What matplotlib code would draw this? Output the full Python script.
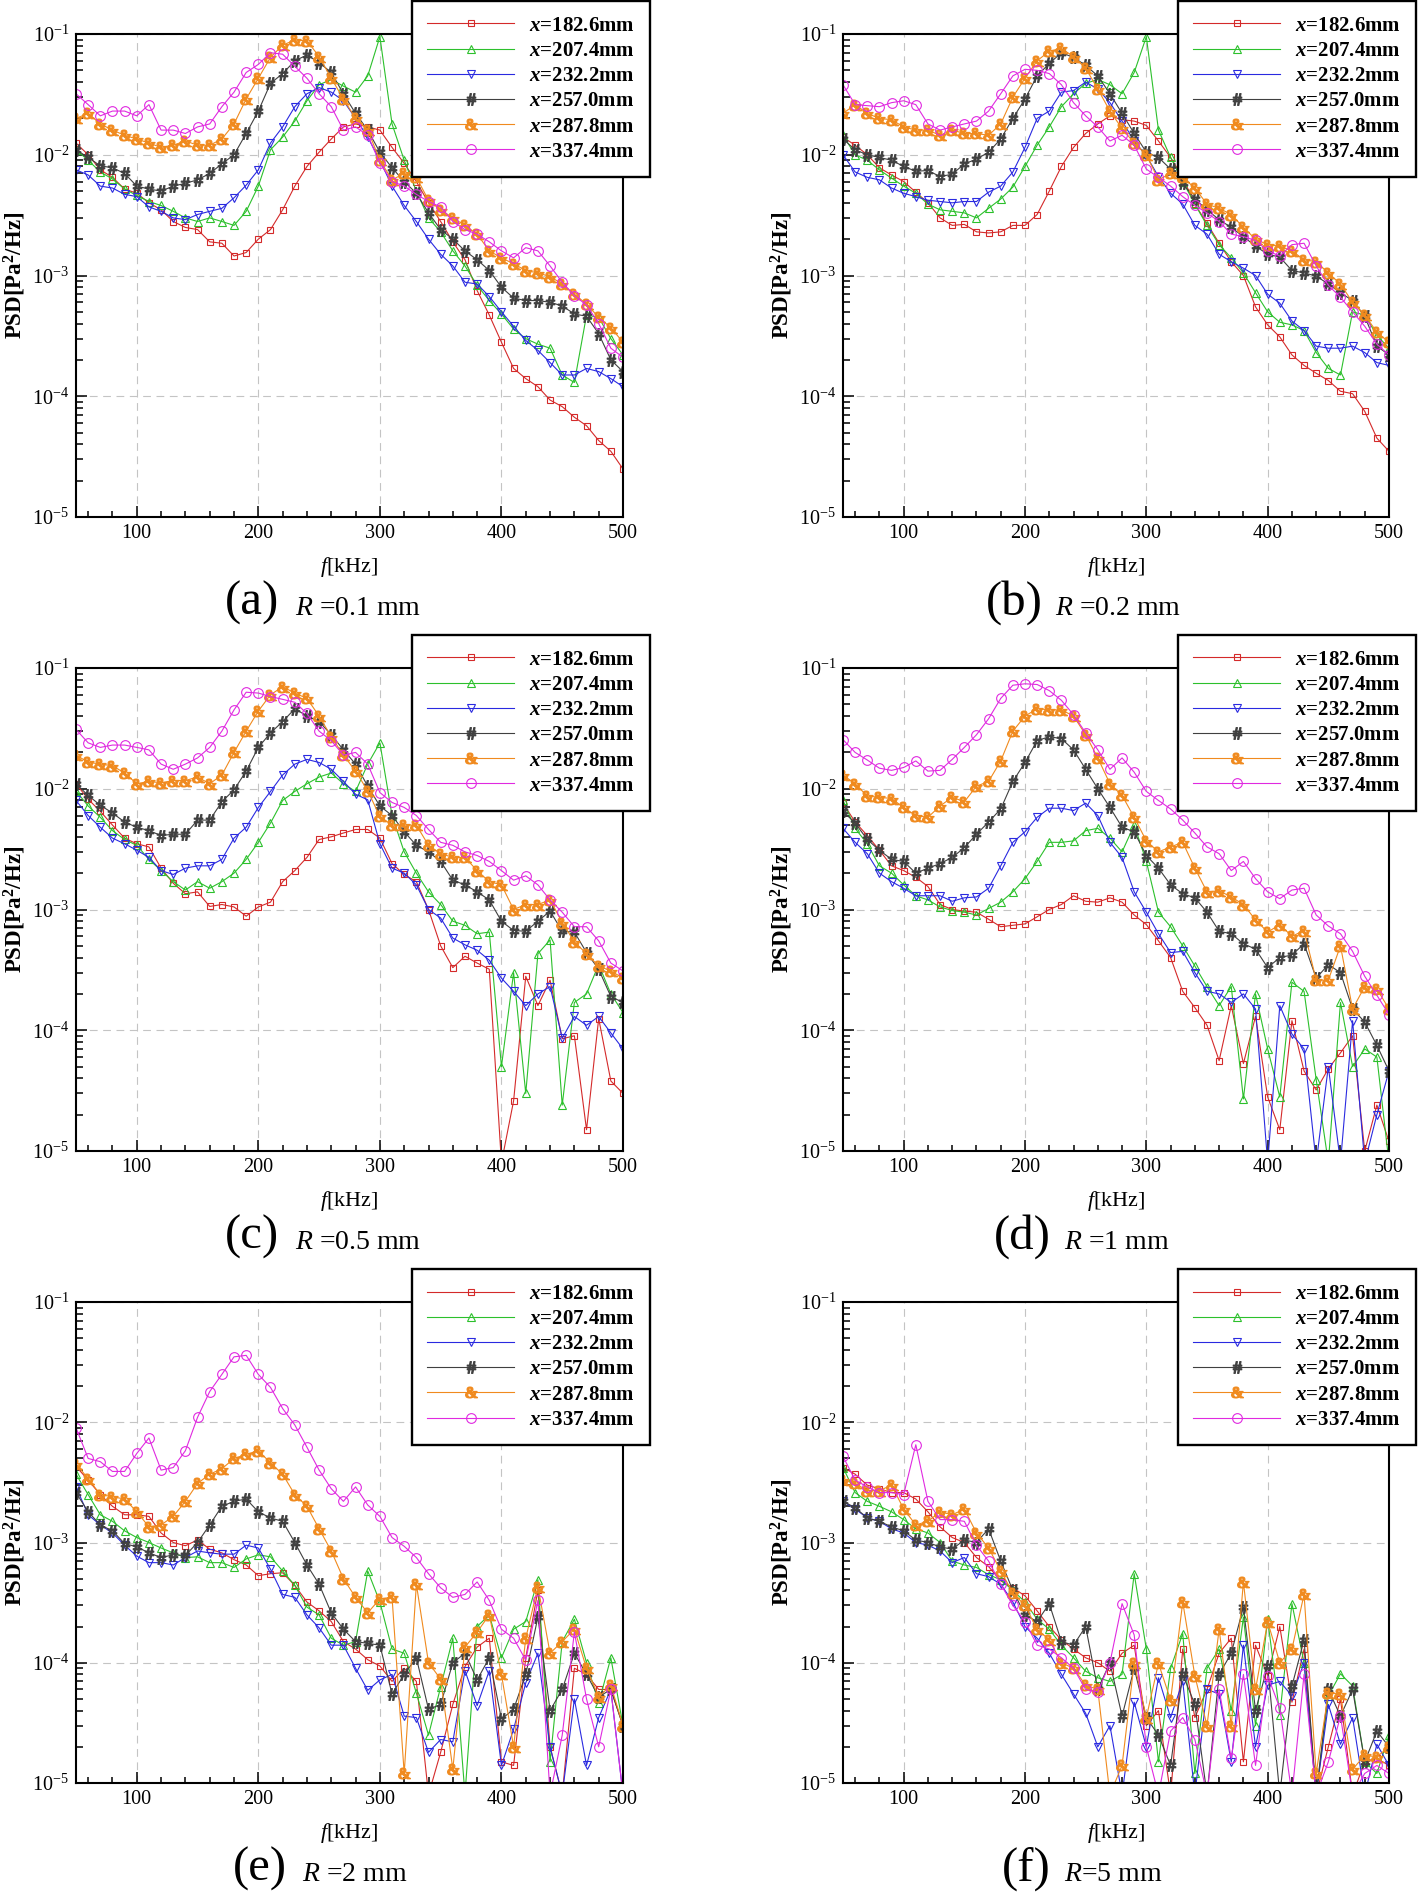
import matplotlib
matplotlib.use('Agg')
import matplotlib.pyplot as plt
from matplotlib.ticker import FixedLocator, LogLocator, NullFormatter, LogFormatterMathtext

# Frequency grid [kHz] shared by every curve
FREQ = [50, 60, 70, 80, 90, 100, 110, 120, 130, 140,
        150, 160, 170, 180, 190, 200, 210, 220, 230, 240,
        250, 260, 270, 280, 290, 300, 310, 320, 330, 340,
        350, 360, 370, 380, 390, 400, 410, 420, 430, 440,
        450, 460, 470, 480, 490, 500]

# (a) R = 0.1 mm
A_182 = [1.25e-2, 1.0e-2, 7.5e-3, 6.5e-3, 5.2e-3, 4.8e-3, 4.0e-3, 3.5e-3, 2.8e-3, 2.5e-3,
         2.4e-3, 1.9e-3, 1.85e-3, 1.45e-3, 1.55e-3, 2.0e-3, 2.4e-3, 3.5e-3, 5.5e-3, 8.0e-3,
         1.05e-2, 1.35e-2, 1.7e-2, 1.8e-2, 1.7e-2, 1.6e-2, 1.15e-2, 8.5e-3, 6.0e-3, 4.0e-3,
         2.8e-3, 1.9e-3, 1.35e-3, 7.5e-4, 4.7e-4, 2.8e-4, 1.7e-4, 1.4e-4, 1.2e-4, 9.3e-5,
         8.2e-5, 6.7e-5, 5.7e-5, 4.3e-5, 3.5e-5, 2.5e-5]
A_207 = [1.1e-2, 9.0e-3, 7.2e-3, 6.3e-3, 5.2e-3, 4.6e-3, 4.1e-3, 3.8e-3, 3.4e-3, 3.0e-3,
         2.8e-3, 3.0e-3, 2.8e-3, 2.6e-3, 3.4e-3, 5.5e-3, 1.1e-2, 1.4e-2, 1.9e-2, 2.8e-2,
         3.8e-2, 4.2e-2, 3.7e-2, 3.3e-2, 4.5e-2, 9.5e-2, 1.8e-2, 9.0e-3, 5.0e-3, 3.0e-3,
         2.3e-3, 1.6e-3, 1.2e-3, 8.3e-4, 6.2e-4, 4.8e-4, 3.6e-4, 3.0e-4, 2.7e-4, 2.5e-4,
         1.5e-4, 1.3e-4, 4.7e-4, 4.5e-4, 3.0e-4, 2.2e-4]
A_232 = [7.5e-3, 6.8e-3, 5.5e-3, 5.3e-3, 4.7e-3, 4.5e-3, 3.7e-3, 3.4e-3, 3.0e-3, 2.9e-3,
         3.2e-3, 3.4e-3, 3.6e-3, 4.4e-3, 5.6e-3, 7.5e-3, 1.25e-2, 1.7e-2, 2.5e-2, 3.2e-2,
         3.6e-2, 3.3e-2, 2.8e-2, 2.0e-2, 1.4e-2, 9.0e-3, 5.5e-3, 3.8e-3, 2.8e-3, 2.0e-3,
         1.5e-3, 1.2e-3, 8.8e-4, 8.5e-4, 6.7e-4, 5.0e-4, 3.8e-4, 2.9e-4, 2.4e-4, 1.9e-4,
         1.5e-4, 1.5e-4, 1.7e-4, 1.6e-4, 1.4e-4, 1.2e-4]
A_257 = [1.1e-2, 9.5e-3, 8.1e-3, 7.8e-3, 7.0e-3, 5.5e-3, 5.2e-3, 5.0e-3, 5.5e-3, 5.8e-3,
         6.2e-3, 7.0e-3, 8.4e-3, 1.0e-2, 1.5e-2, 2.3e-2, 3.9e-2, 4.7e-2, 6.0e-2, 6.7e-2,
         5.8e-2, 4.8e-2, 3.2e-2, 2.2e-2, 1.6e-2, 1.05e-2, 7.8e-3, 6.0e-3, 4.8e-3, 3.3e-3,
         2.4e-3, 2.0e-3, 1.6e-3, 1.35e-3, 1.1e-3, 8.0e-4, 6.5e-4, 6.2e-4, 6.2e-4, 6.0e-4,
         5.6e-4, 4.8e-4, 4.6e-4, 3.3e-4, 2.0e-4, 1.6e-4]
A_287 = [2.0e-2, 2.2e-2, 1.8e-2, 1.6e-2, 1.45e-2, 1.35e-2, 1.25e-2, 1.15e-2, 1.2e-2, 1.3e-2,
         1.2e-2, 1.2e-2, 1.35e-2, 1.8e-2, 2.9e-2, 4.3e-2, 6.4e-2, 8.1e-2, 8.9e-2, 8.8e-2,
         6.5e-2, 4.3e-2, 2.9e-2, 2.0e-2, 1.6e-2, 9.0e-3, 6.2e-3, 7.0e-3, 6.5e-3, 4.2e-3,
         3.5e-3, 3.0e-3, 2.6e-3, 2.2e-3, 1.6e-3, 1.4e-3, 1.25e-3, 1.1e-3, 1.05e-3, 9.8e-4,
         8.5e-4, 7.0e-4, 5.8e-4, 4.5e-4, 3.7e-4, 2.8e-4]
A_337 = [3.2e-2, 2.6e-2, 2.1e-2, 2.3e-2, 2.3e-2, 2.1e-2, 2.6e-2, 1.6e-2, 1.6e-2, 1.5e-2,
         1.7e-2, 1.8e-2, 2.5e-2, 3.3e-2, 4.8e-2, 5.6e-2, 7.0e-2, 6.8e-2, 5.4e-2, 4.3e-2,
         3.2e-2, 2.5e-2, 1.6e-2, 1.7e-2, 1.45e-2, 8.5e-3, 6.0e-3, 5.5e-3, 4.7e-3, 4.1e-3,
         3.7e-3, 2.8e-3, 2.4e-3, 2.2e-3, 1.9e-3, 1.6e-3, 1.4e-3, 1.7e-3, 1.6e-3, 1.2e-3,
         8.8e-4, 6.8e-4, 5.7e-4, 4.0e-4, 2.5e-4, 2.1e-4]

# (b) R = 0.2 mm
B_182 = [1.4e-2, 1.2e-2, 1.0e-2, 7.8e-3, 6.8e-3, 6.0e-3, 4.9e-3, 4.0e-3, 3.0e-3, 2.6e-3,
         2.65e-3, 2.3e-3, 2.25e-3, 2.3e-3, 2.6e-3, 2.6e-3, 3.2e-3, 5.0e-3, 8.0e-3, 1.15e-2,
         1.5e-2, 1.8e-2, 2.1e-2, 1.95e-2, 1.9e-2, 1.75e-2, 1.3e-2, 9.5e-3, 6.5e-3, 3.9e-3,
         2.7e-3, 1.85e-3, 1.3e-3, 1.0e-3, 5.5e-4, 3.9e-4, 3.1e-4, 2.2e-4, 1.8e-4, 1.55e-4,
         1.35e-4, 1.1e-4, 1.05e-4, 7.5e-5, 4.5e-5, 3.5e-5]
B_207 = [1.45e-2, 1.0e-2, 9.0e-3, 7.5e-3, 6.4e-3, 5.5e-3, 4.8e-3, 3.9e-3, 3.5e-3, 3.4e-3,
         3.3e-3, 3.0e-3, 3.6e-3, 4.3e-3, 5.4e-3, 8.0e-3, 1.2e-2, 1.7e-2, 2.5e-2, 3.2e-2,
         3.9e-2, 4.2e-2, 3.8e-2, 3.2e-2, 4.8e-2, 9.5e-2, 1.6e-2, 9.5e-3, 6.0e-3, 3.9e-3,
         2.6e-3, 1.8e-3, 1.4e-3, 1.05e-3, 7.2e-4, 5.0e-4, 4.1e-4, 3.9e-4, 3.5e-4, 2.3e-4,
         1.7e-4, 1.5e-4, 5.0e-4, 4.7e-4, 3.2e-4, 2.5e-4]
B_232 = [1.0e-2, 7.2e-3, 6.5e-3, 6.2e-3, 5.3e-3, 4.8e-3, 4.5e-3, 4.2e-3, 4.1e-3, 4.0e-3,
         4.1e-3, 4.1e-3, 4.9e-3, 5.5e-3, 7.2e-3, 1.15e-2, 2.0e-2, 2.3e-2, 3.3e-2, 3.4e-2,
         4.0e-2, 3.5e-2, 2.7e-2, 1.9e-2, 1.3e-2, 9.8e-3, 6.6e-3, 4.8e-3, 3.9e-3, 2.6e-3,
         2.2e-3, 1.5e-3, 1.3e-3, 1.15e-3, 1.0e-3, 7.0e-4, 5.9e-4, 4.2e-4, 3.5e-4, 2.6e-4,
         2.5e-4, 2.5e-4, 2.6e-4, 2.3e-4, 1.9e-4, 1.8e-4]
B_257 = [1.35e-2, 1.1e-2, 1.0e-2, 9.5e-3, 9.0e-3, 8.0e-3, 7.3e-3, 7.4e-3, 6.6e-3, 6.9e-3,
         8.4e-3, 9.2e-3, 1.05e-2, 1.35e-2, 2.0e-2, 2.9e-2, 4.5e-2, 5.7e-2, 7.0e-2, 6.4e-2,
         5.5e-2, 4.5e-2, 3.2e-2, 2.2e-2, 1.5e-2, 1.05e-2, 9.5e-3, 7.6e-3, 5.8e-3, 4.3e-3,
         3.5e-3, 2.9e-3, 2.5e-3, 2.1e-3, 1.75e-3, 1.5e-3, 1.42e-3, 1.1e-3, 1.05e-3, 9.9e-4,
         8.5e-4, 7.2e-4, 6.2e-4, 4.6e-4, 2.6e-4, 2.2e-4]
B_287 = [2.2e-2, 2.6e-2, 2.2e-2, 2.0e-2, 1.95e-2, 1.7e-2, 1.6e-2, 1.6e-2, 1.45e-2, 1.6e-2,
         1.5e-2, 1.5e-2, 1.45e-2, 1.8e-2, 3.0e-2, 4.3e-2, 6.0e-2, 7.2e-2, 7.6e-2, 6.5e-2,
         5.2e-2, 3.5e-2, 2.3e-2, 1.65e-2, 1.25e-2, 1.0e-2, 6.2e-3, 7.0e-3, 6.5e-3, 5.3e-3,
         3.9e-3, 3.6e-3, 3.2e-3, 2.5e-3, 2.0e-3, 1.8e-3, 1.75e-3, 1.6e-3, 1.35e-3, 1.3e-3,
         1.05e-3, 8.5e-4, 6.0e-4, 4.7e-4, 3.4e-4, 2.8e-4]
B_337 = [3.8e-2, 2.6e-2, 2.55e-2, 2.5e-2, 2.7e-2, 2.8e-2, 2.6e-2, 1.8e-2, 1.6e-2, 1.7e-2,
         1.8e-2, 1.9e-2, 2.3e-2, 3.2e-2, 4.5e-2, 5.1e-2, 5.0e-2, 4.7e-2, 3.8e-2, 2.7e-2,
         2.1e-2, 1.7e-2, 1.3e-2, 1.45e-2, 1.2e-2, 7.6e-3, 6.5e-3, 5.5e-3, 4.5e-3, 3.8e-3,
         3.3e-3, 2.8e-3, 2.2e-3, 2.1e-3, 1.95e-3, 1.6e-3, 1.45e-3, 1.8e-3, 1.85e-3, 1.2e-3,
         8.3e-4, 6.6e-4, 5.0e-4, 3.8e-4, 2.7e-4, 2.2e-4]

# (c) R = 0.5 mm
C_182 = [1.1e-2, 8.2e-3, 6.5e-3, 5.0e-3, 3.9e-3, 3.5e-3, 3.3e-3, 2.2e-3, 1.65e-3, 1.35e-3,
         1.4e-3, 1.06e-3, 1.1e-3, 1.05e-3, 8.8e-4, 1.05e-3, 1.15e-3, 1.7e-3, 2.1e-3, 2.7e-3,
         3.8e-3, 4.0e-3, 4.3e-3, 4.6e-3, 4.6e-3, 3.9e-3, 2.4e-3, 1.95e-3, 1.7e-3, 1.0e-3,
         5.0e-4, 3.3e-4, 4.1e-4, 3.6e-4, 3.2e-4, 8.0e-6, 2.6e-5, 2.8e-4, 1.6e-4, 2.6e-4,
         8.5e-5, 9.0e-5, 1.5e-5, 1.25e-4, 3.8e-5, 3.0e-5]
C_207 = [9.6e-3, 7.2e-3, 5.8e-3, 4.5e-3, 3.8e-3, 3.4e-3, 2.6e-3, 2.1e-3, 1.7e-3, 1.45e-3,
         1.7e-3, 1.5e-3, 1.7e-3, 2.0e-3, 2.6e-3, 3.6e-3, 5.2e-3, 8.0e-3, 9.5e-3, 1.1e-2,
         1.25e-2, 1.35e-2, 1.1e-2, 9.5e-3, 1.6e-2, 2.4e-2, 6.0e-3, 3.0e-3, 2.0e-3, 1.4e-3,
         1.1e-3, 8.0e-4, 7.4e-4, 6.3e-4, 6.5e-4, 5.0e-5, 3.0e-4, 3.0e-5, 4.3e-4, 5.6e-4,
         2.4e-5, 1.7e-4, 2.0e-4, 3.5e-4, 2.0e-4, 1.4e-4]
C_232 = [8.0e-3, 6.0e-3, 4.8e-3, 3.9e-3, 3.5e-3, 3.1e-3, 2.7e-3, 2.1e-3, 1.95e-3, 2.2e-3,
         2.3e-3, 2.3e-3, 2.6e-3, 3.9e-3, 4.8e-3, 7.0e-3, 9.5e-3, 1.3e-2, 1.6e-2, 1.75e-2,
         1.65e-2, 1.45e-2, 1.15e-2, 9.0e-3, 8.1e-3, 3.5e-3, 2.2e-3, 2.0e-3, 1.6e-3, 1.0e-3,
         8.5e-4, 5.8e-4, 5.1e-4, 4.6e-4, 3.8e-4, 2.7e-4, 2.1e-4, 1.6e-4, 2.0e-4, 2.3e-4,
         8.6e-5, 1.3e-4, 1.1e-4, 1.3e-4, 9.5e-5, 7.0e-5]
C_257 = [1.1e-2, 8.8e-3, 7.3e-3, 6.3e-3, 5.3e-3, 4.8e-3, 4.5e-3, 4.1e-3, 4.2e-3, 4.2e-3,
         5.5e-3, 5.5e-3, 7.8e-3, 9.8e-3, 1.4e-2, 2.2e-2, 2.9e-2, 3.6e-2, 4.6e-2, 4.0e-2,
         3.6e-2, 2.8e-2, 2.1e-2, 1.6e-2, 1.05e-2, 7.2e-3, 6.0e-3, 4.4e-3, 3.4e-3, 3.0e-3,
         2.5e-3, 1.75e-3, 1.6e-3, 1.4e-3, 1.2e-3, 8.0e-4, 6.7e-4, 6.6e-4, 8.0e-4, 9.7e-4,
         6.6e-4, 6.5e-4, 4.4e-4, 3.2e-4, 1.9e-4, 1.7e-4]
C_287 = [1.9e-2, 1.66e-2, 1.6e-2, 1.55e-2, 1.35e-2, 1.1e-2, 1.15e-2, 1.12e-2, 1.17e-2, 1.17e-2,
         1.25e-2, 1.1e-2, 1.3e-2, 2.0e-2, 3.0e-2, 4.4e-2, 6.0e-2, 7.0e-2, 6.2e-2, 5.6e-2,
         4.0e-2, 2.7e-2, 1.9e-2, 1.4e-2, 9.6e-3, 5.9e-3, 5.0e-3, 5.0e-3, 5.0e-3, 3.4e-3,
         2.9e-3, 2.7e-3, 2.7e-3, 2.1e-3, 1.7e-3, 1.6e-3, 1.0e-3, 1.1e-3, 1.1e-3, 1.2e-3,
         7.8e-4, 5.4e-4, 4.3e-4, 3.4e-4, 3.1e-4, 2.7e-4]
C_337 = [3.1e-2, 2.4e-2, 2.2e-2, 2.3e-2, 2.3e-2, 2.2e-2, 2.1e-2, 1.6e-2, 1.45e-2, 1.6e-2,
         1.8e-2, 2.2e-2, 3.0e-2, 4.5e-2, 6.3e-2, 6.2e-2, 5.8e-2, 5.5e-2, 5.2e-2, 4.2e-2,
         3.0e-2, 2.5e-2, 1.9e-2, 2.0e-2, 1.6e-2, 9.3e-3, 7.7e-3, 7.0e-3, 6.0e-3, 4.6e-3,
         3.6e-3, 3.4e-3, 3.0e-3, 2.8e-3, 2.5e-3, 2.1e-3, 1.75e-3, 1.9e-3, 1.6e-3, 1.2e-3,
         9.5e-4, 7.2e-4, 7.2e-4, 5.5e-4, 3.6e-4, 3.1e-4]

# (d) R = 1 mm
D_182 = [7.6e-3, 5.3e-3, 4.1e-3, 3.1e-3, 2.3e-3, 2.1e-3, 1.85e-3, 1.55e-3, 1.1e-3, 1.0e-3,
         9.7e-4, 9.5e-4, 8.3e-4, 7.2e-4, 7.4e-4, 7.6e-4, 8.7e-4, 1.0e-3, 1.1e-3, 1.3e-3,
         1.17e-3, 1.15e-3, 1.25e-3, 1.15e-3, 9.0e-4, 7.5e-4, 5.5e-4, 4.0e-4, 2.1e-4, 1.54e-4,
         1.1e-4, 5.6e-5, 1.6e-4, 5.3e-5, 1.3e-4, 2.8e-5, 1.5e-5, 1.2e-4, 4.6e-5, 3.2e-5,
         4.8e-5, 6.5e-5, 9.0e-5, 1.0e-5, 2.4e-5, 1.2e-5]
D_207 = [8.0e-3, 4.7e-3, 3.5e-3, 2.3e-3, 2.0e-3, 1.6e-3, 1.3e-3, 1.2e-3, 1.05e-3, 9.8e-4,
         9.5e-4, 9.0e-4, 1.02e-3, 1.15e-3, 1.4e-3, 1.8e-3, 2.5e-3, 3.6e-3, 3.6e-3, 3.7e-3,
         4.5e-3, 4.7e-3, 3.9e-3, 3.0e-3, 5.0e-3, 2.5e-3, 9.5e-4, 7.2e-4, 5.0e-4, 3.4e-4,
         2.3e-4, 1.6e-4, 2.3e-4, 2.7e-5, 2.0e-4, 7.0e-5, 2.8e-5, 2.5e-4, 2.1e-4, 3.9e-5,
         8.0e-6, 1.7e-4, 5.0e-5, 7.0e-5, 6.0e-5, 8.0e-6]
D_232 = [4.7e-3, 3.6e-3, 2.9e-3, 2.0e-3, 1.7e-3, 1.5e-3, 1.3e-3, 1.3e-3, 1.3e-3, 1.17e-3,
         1.25e-3, 1.27e-3, 1.5e-3, 2.3e-3, 3.6e-3, 4.4e-3, 5.8e-3, 6.9e-3, 6.9e-3, 6.6e-3,
         7.6e-3, 6.0e-3, 3.6e-3, 2.7e-3, 1.4e-3, 9.5e-4, 6.3e-4, 4.4e-4, 4.5e-4, 3.0e-4,
         2.1e-4, 2.0e-4, 1.7e-4, 2.0e-4, 1.5e-4, 8.0e-6, 1.6e-4, 9.3e-5, 7.0e-5, 8.0e-6,
         5.0e-5, 8.0e-6, 1.2e-4, 8.0e-6, 2.0e-5, 4.6e-5]
D_257 = [6.5e-3, 5.2e-3, 3.8e-3, 3.1e-3, 2.6e-3, 2.5e-3, 2.0e-3, 2.2e-3, 2.4e-3, 2.7e-3,
         3.25e-3, 4.2e-3, 5.3e-3, 6.8e-3, 1.15e-2, 1.65e-2, 2.5e-2, 2.7e-2, 2.6e-2, 2.1e-2,
         1.45e-2, 1.0e-2, 7.0e-3, 4.8e-3, 4.4e-3, 2.8e-3, 2.2e-3, 1.6e-3, 1.35e-3, 1.25e-3,
         9.5e-4, 6.6e-4, 6.3e-4, 5.2e-4, 4.7e-4, 3.3e-4, 4.0e-4, 4.2e-4, 5.2e-4, 2.7e-4,
         3.5e-4, 3.0e-4, 1.5e-4, 1.17e-4, 7.5e-5, 4.6e-5]
D_287 = [1.3e-2, 1.1e-2, 8.7e-3, 8.5e-3, 8.3e-3, 7.0e-3, 6.0e-3, 5.8e-3, 7.2e-3, 8.5e-3,
         7.8e-3, 1.05e-2, 1.15e-2, 1.7e-2, 3.0e-2, 4.0e-2, 4.6e-2, 4.5e-2, 4.5e-2, 4.0e-2,
         2.8e-2, 1.8e-2, 1.1e-2, 8.8e-3, 5.8e-3, 3.7e-3, 3.0e-3, 3.3e-3, 3.6e-3, 2.2e-3,
         1.4e-3, 1.43e-3, 1.27e-3, 1.1e-3, 8.2e-4, 6.5e-4, 7.5e-4, 6.0e-4, 6.7e-4, 2.6e-4,
         2.6e-4, 5.0e-4, 1.5e-4, 2.3e-4, 2.2e-4, 1.5e-4]
D_337 = [2.55e-2, 2.0e-2, 1.73e-2, 1.48e-2, 1.42e-2, 1.5e-2, 1.7e-2, 1.4e-2, 1.42e-2, 1.75e-2,
         2.2e-2, 2.8e-2, 3.8e-2, 5.6e-2, 7.2e-2, 7.4e-2, 7.3e-2, 6.5e-2, 5.4e-2, 4.1e-2,
         2.9e-2, 2.1e-2, 1.45e-2, 1.8e-2, 1.37e-2, 9.5e-3, 8.0e-3, 6.8e-3, 5.5e-3, 4.3e-3,
         3.3e-3, 2.9e-3, 2.1e-3, 2.5e-3, 1.8e-3, 1.4e-3, 1.23e-3, 1.45e-3, 1.5e-3, 9.0e-4,
         7.3e-4, 6.3e-4, 4.5e-4, 2.8e-4, 1.95e-4, 1.35e-4]

# (e) R = 2 mm
E_182 = [4.3e-3, 3.3e-3, 2.5e-3, 2.0e-3, 1.7e-3, 1.7e-3, 1.65e-3, 1.2e-3, 1.0e-3, 9.4e-4,
         1.05e-3, 8.8e-4, 8.2e-4, 7.2e-4, 6.5e-4, 5.3e-4, 5.5e-4, 5.6e-4, 4.4e-4, 3.2e-4,
         2.7e-4, 2.2e-4, 1.5e-4, 1.3e-4, 1.06e-4, 9.4e-5, 7.0e-5, 9.0e-5, 7.0e-5, 8.0e-6,
         1.8e-5, 4.5e-5, 9.3e-5, 1.35e-4, 1.6e-4, 1.5e-5, 1.4e-5, 1.1e-4, 4.0e-4, 2.0e-5,
         8.0e-6, 9.0e-5, 8.0e-5, 6.0e-5, 6.0e-5, 3.0e-5]
E_207 = [3.7e-3, 2.5e-3, 1.7e-3, 1.5e-3, 1.25e-3, 1.1e-3, 1.0e-3, 9.0e-4, 8.2e-4, 7.5e-4,
         7.6e-4, 6.8e-4, 6.8e-4, 6.2e-4, 7.3e-4, 7.9e-4, 7.6e-4, 5.8e-4, 4.4e-4, 2.9e-4,
         2.5e-4, 1.6e-4, 1.4e-4, 1.5e-4, 5.8e-4, 3.2e-4, 1.3e-4, 1.2e-4, 5.6e-5, 2.5e-5,
         6.3e-5, 1.6e-4, 8.0e-6, 2.0e-4, 2.5e-4, 1.1e-4, 1.9e-4, 2.2e-4, 4.9e-4, 1.5e-5,
         1.5e-4, 2.3e-4, 1.0e-4, 4.6e-5, 1.1e-4, 3.0e-5]
E_232 = [2.9e-3, 1.7e-3, 1.4e-3, 1.2e-3, 9.5e-4, 7.7e-4, 6.8e-4, 6.8e-4, 6.5e-4, 7.5e-4,
         8.5e-4, 8.2e-4, 8.0e-4, 8.0e-4, 9.5e-4, 9.0e-4, 6.0e-4, 3.7e-4, 3.5e-4, 2.5e-4,
         1.95e-4, 1.4e-4, 1.4e-4, 9.0e-5, 5.9e-5, 7.2e-5, 8.0e-5, 3.6e-5, 3.5e-5, 1.8e-5,
         2.3e-5, 2.2e-5, 8.6e-5, 4.4e-5, 8.6e-5, 1.4e-5, 2.8e-5, 6.8e-5, 1.2e-4, 2.0e-5,
         8.0e-6, 5.0e-5, 1.4e-5, 3.5e-5, 6.0e-5, 8.0e-6]
E_257 = [2.6e-3, 1.8e-3, 1.4e-3, 1.25e-3, 9.8e-4, 9.2e-4, 8.2e-4, 7.5e-4, 7.9e-4, 7.8e-4,
         1.0e-3, 1.4e-3, 2.0e-3, 2.2e-3, 2.3e-3, 1.8e-3, 1.6e-3, 1.5e-3, 1.0e-3, 6.5e-4,
         4.5e-4, 2.6e-4, 1.9e-4, 1.5e-4, 1.45e-4, 1.4e-4, 5.5e-5, 8.0e-5, 1.1e-4, 4.1e-5,
         4.5e-5, 1.0e-4, 1.2e-4, 7.2e-5, 1.1e-4, 3.4e-5, 4.1e-5, 8.0e-5, 2.4e-4, 4.0e-5,
         6.0e-5, 1.2e-4, 8.0e-5, 5.2e-5, 6.0e-5, 3.0e-5]
E_287 = [4.5e-3, 3.4e-3, 2.5e-3, 2.4e-3, 2.3e-3, 1.8e-3, 1.35e-3, 1.4e-3, 1.65e-3, 2.2e-3,
         3.1e-3, 3.7e-3, 4.1e-3, 5.0e-3, 5.4e-3, 5.8e-3, 4.6e-3, 3.7e-3, 2.5e-3, 2.0e-3,
         1.3e-3, 8.5e-4, 5.0e-4, 3.5e-4, 2.6e-4, 3.4e-4, 3.5e-4, 1.2e-5, 4.5e-4, 1.0e-4,
         7.3e-5, 1.3e-5, 1.35e-4, 1.8e-4, 2.5e-4, 8.0e-5, 2.0e-5, 1.6e-4, 4.3e-4, 1.2e-4,
         1.5e-4, 1.9e-4, 9.0e-5, 5.2e-5, 6.5e-5, 3.0e-5]
E_337 = [9.0e-3, 5.0e-3, 4.7e-3, 3.9e-3, 3.9e-3, 5.5e-3, 7.4e-3, 4.0e-3, 4.2e-3, 5.8e-3,
         1.1e-2, 1.8e-2, 2.5e-2, 3.5e-2, 3.6e-2, 2.5e-2, 1.95e-2, 1.3e-2, 9.5e-3, 6.2e-3,
         4.0e-3, 2.8e-3, 2.2e-3, 2.9e-3, 2.05e-3, 1.65e-3, 1.1e-3, 9.3e-4, 7.5e-4, 5.5e-4,
         4.2e-4, 3.5e-4, 3.7e-4, 4.7e-4, 3.3e-4, 1.9e-4, 1.6e-4, 1.05e-4, 3.3e-4, 8.0e-6,
         2.5e-5, 1.8e-4, 5.0e-5, 2.0e-5, 6.0e-5, 8.0e-6]

# (f) R = 5 mm
F_182 = [4.2e-3, 3.7e-3, 3.0e-3, 2.8e-3, 2.6e-3, 2.6e-3, 2.3e-3, 1.8e-3, 1.35e-3, 1.1e-3,
         1.0e-3, 7.5e-4, 6.3e-4, 4.8e-4, 4.2e-4, 3.6e-4, 2.7e-4, 2.0e-4, 1.55e-4, 1.3e-4,
         1.1e-4, 1.0e-4, 8.5e-5, 1.2e-4, 1.4e-4, 3.0e-5, 4.0e-5, 8.0e-6, 1.3e-4, 3.5e-5,
         6.0e-5, 1.2e-4, 1.6e-4, 1.5e-5, 1.4e-4, 7.8e-5, 2.0e-4, 4.7e-5, 1.3e-4, 8.0e-6,
         2.0e-5, 5.0e-5, 8.0e-6, 1.5e-5, 1.6e-5, 1.4e-5]
F_207 = [4.2e-3, 2.6e-3, 2.2e-3, 2.0e-3, 1.8e-3, 1.55e-3, 1.3e-3, 1.2e-3, 1.0e-3, 7.0e-4,
         6.5e-4, 6.2e-4, 5.4e-4, 4.9e-4, 4.0e-4, 3.2e-4, 2.3e-4, 1.9e-4, 1.4e-4, 1.1e-4,
         8.5e-5, 7.5e-5, 7.0e-5, 8.0e-5, 5.5e-4, 1.3e-4, 1.5e-5, 9.0e-5, 1.75e-4, 1.2e-5,
         9.0e-5, 1.3e-4, 4.0e-5, 2.4e-4, 3.0e-5, 2.3e-4, 3.7e-5, 3.1e-4, 1.0e-4, 8.0e-6,
         5.3e-5, 8.1e-5, 6.4e-5, 1.5e-5, 1.2e-5, 2.5e-5]
F_232 = [2.2e-3, 1.9e-3, 1.6e-3, 1.5e-3, 1.3e-3, 1.2e-3, 1.0e-3, 9.5e-4, 8.5e-4, 6.8e-4,
         7.5e-4, 5.5e-4, 5.2e-4, 4.5e-4, 3.2e-4, 2.0e-4, 1.6e-4, 1.2e-4, 8.0e-5, 5.5e-5,
         3.8e-5, 2.0e-5, 3.0e-5, 8.0e-6, 4.7e-5, 2.0e-5, 7.5e-5, 3.5e-5, 7.0e-5, 8.0e-6,
         6.0e-5, 5.5e-5, 1.5e-5, 1.4e-4, 2.0e-5, 6.5e-5, 7.0e-5, 5.3e-5, 1.0e-4, 8.0e-6,
         4.5e-5, 2.1e-5, 3.5e-5, 8.0e-6, 2.1e-5, 1.4e-5]
F_257 = [2.2e-3, 1.95e-3, 1.6e-3, 1.5e-3, 1.35e-3, 1.25e-3, 1.05e-3, 1.0e-3, 9.2e-4, 8.8e-4,
         1.05e-3, 1.0e-3, 1.3e-3, 7.0e-4, 4.0e-4, 2.5e-4, 2.2e-4, 3.1e-4, 1.5e-4, 1.4e-4,
         2.0e-4, 6.0e-5, 1.0e-4, 3.6e-5, 9.0e-5, 3.5e-5, 2.5e-5, 1.4e-5, 8.0e-5, 4.5e-5,
         8.0e-6, 8.0e-5, 1.2e-4, 2.9e-4, 4.0e-5, 9.4e-5, 8.0e-6, 6.4e-5, 1.55e-4, 8.0e-6,
         6.0e-5, 3.6e-5, 6.0e-5, 1.5e-5, 2.7e-5, 2.0e-5]
F_287 = [3.3e-3, 3.1e-3, 2.7e-3, 2.7e-3, 3.0e-3, 1.9e-3, 1.4e-3, 1.5e-3, 1.8e-3, 1.7e-3,
         1.9e-3, 1.2e-3, 9.0e-4, 5.8e-4, 3.8e-4, 3.0e-4, 1.9e-4, 1.55e-4, 1.0e-4, 9.0e-5,
         6.5e-5, 6.0e-5, 8.0e-6, 1.4e-5, 1.0e-4, 3.5e-5, 9.9e-5, 4.9e-5, 3.2e-4, 7.8e-5,
         3.0e-5, 1.9e-4, 3.0e-5, 4.7e-4, 6.0e-5, 2.2e-4, 1.0e-4, 1.3e-4, 3.7e-4, 1.2e-5,
         5.6e-5, 5.5e-5, 1.3e-5, 1.7e-5, 1.65e-5, 2.0e-5]
F_337 = [5.2e-3, 3.3e-3, 2.9e-3, 2.6e-3, 2.6e-3, 2.5e-3, 6.5e-3, 2.2e-3, 1.55e-3, 1.55e-3,
         1.5e-3, 9.5e-4, 7.0e-4, 4.5e-4, 3.0e-4, 2.2e-4, 1.4e-4, 1.3e-4, 1.1e-4, 9.0e-5,
         6.0e-5, 5.7e-5, 1.0e-4, 3.1e-4, 1.7e-4, 2.0e-5, 8.0e-6, 2.7e-5, 3.5e-5, 2.3e-5,
         8.0e-6, 6.0e-5, 1.6e-5, 8.0e-5, 1.4e-5, 7.8e-5, 4.2e-5, 8.0e-6, 8.0e-5, 8.0e-6,
         1.5e-5, 3.6e-5, 8.0e-6, 1.2e-5, 1.4e-5, 1.2e-5]

POSITIONS = ['182.6', '207.4', '232.2', '257.0', '287.8', '337.4']
TAGS = ['(a)', '(b)', '(c)', '(d)', '(e)', '(f)']
RADII = [' =0.1 mm', ' =0.2 mm', ' =0.5 mm', ' =1 mm', ' =2 mm', '=5 mm']

COLORS = ['#d42a2a', '#2cc02c', '#2a2ae0', '#404040', '#f08a1e', '#e02ae0']
MARKERS = ['s', '^', 'v', r'$\#$', r'$&$', 'o']
MSIZES = [5, 6, 6, 8.5, 8.5, 7]

panels = [
    [A_182, A_207, A_232, A_257, A_287, A_337],
    [B_182, B_207, B_232, B_257, B_287, B_337],
    [C_182, C_207, C_232, C_257, C_287, C_337],
    [D_182, D_207, D_232, D_257, D_287, D_337],
    [E_182, E_207, E_232, E_257, E_287, E_337],
    [F_182, F_207, F_232, F_257, F_287, F_337],
]

# axes boxes in pixels (left, top, right, bottom) and caption anchors
W, H = 1418, 1895
BOXES = [(76, 34, 623, 517), (843, 34, 1389, 517),
         (76, 668, 623, 1151), (843, 668, 1389, 1151),
         (76, 1302, 623, 1783), (843, 1302, 1389, 1783)]
CAP_X = [(0.371, 0.40), (0.365, 0.389), (0.371, 0.40),
         (0.381, 0.405), (0.386, 0.413), (0.381, 0.405)]

plt.rcParams['font.family'] = ['Liberation Serif', 'DejaVu Serif']
plt.rcParams['mathtext.fontset'] = 'custom'
plt.rcParams['mathtext.rm'] = 'Liberation Serif:bold'
plt.rcParams['mathtext.it'] = 'Liberation Serif:italic:bold'
plt.rcParams['mathtext.bf'] = 'Liberation Serif:bold'
plt.rcParams['mathtext.sf'] = 'Liberation Serif:italic'


def draw_panel(fig, k):
    l, t, r, b = BOXES[k]
    ax = fig.add_axes([l / W, 1 - b / H, (r - l) / W, (b - t) / H])

    for i, series in enumerate(panels[k]):
        filled = MARKERS[i].startswith('$')
        ax.plot(FREQ, series, color=COLORS[i], lw=0.8,
                marker=MARKERS[i], ms=MSIZES[i], mew=0.8,
                mfc=COLORS[i] if filled else 'none', mec=COLORS[i],
                label=r'$x$=' + POSITIONS[i] + 'mm')

    ax.set_yscale('log')
    ax.set_xlim(50, 500)
    ax.set_ylim(1e-5, 1e-1)

    ax.xaxis.set_major_locator(FixedLocator([100, 200, 300, 400, 500]))
    ax.xaxis.set_minor_locator(FixedLocator(list(range(60, 500, 20))))
    ax.yaxis.set_major_locator(LogLocator(base=10, numticks=10))
    ax.yaxis.set_minor_locator(LogLocator(base=10, subs=range(2, 10), numticks=10))
    ax.yaxis.set_major_formatter(LogFormatterMathtext())
    ax.yaxis.set_minor_formatter(NullFormatter())
    ax.tick_params(which='both', direction='in', top=False, right=False,
                   labelsize=14.5, width=1.1)
    ax.tick_params(axis='x', which='major', length=8, pad=5)
    ax.tick_params(axis='x', which='minor', length=4.5)
    ax.tick_params(axis='y', which='major', length=8, pad=5)
    ax.tick_params(axis='y', which='minor', length=5)

    ax.grid(True, which='major', color='#c4c4c4', lw=0.8, ls=(0, (7, 5)))
    for s in ax.spines.values():
        s.set_linewidth(1.5)

    ax.set_xlabel(r'$\mathsf{f}$[kHz]', fontsize=16)
    ax.xaxis.set_label_coords(0.5, -0.078)
    ax.set_ylabel(r'PSD[Pa$^2$/Hz]', fontsize=16.5, fontweight='bold')
    ax.yaxis.set_label_coords(-0.088, 0.5)

    leg = ax.legend(loc='upper right', bbox_to_anchor=(1.05, 1.069),
                    borderaxespad=0, fancybox=False, framealpha=1,
                    edgecolor='black', handlelength=4.2, handletextpad=0.72,
                    borderpad=0.72, labelspacing=0.25,
                    prop={'family': 'Liberation Serif', 'weight': 'bold', 'size': 15})
    leg.get_frame().set_linewidth(1.7)

    x1, x2 = CAP_X[k]
    cy = -98 / (b - t)
    ax.text(x1, cy, TAGS[k], transform=ax.transAxes, ha='right',
            va='baseline', fontsize=35)
    ax.text(x2, cy, r'$\mathsf{R}$' + RADII[k], transform=ax.transAxes,
            ha='left', va='baseline', fontsize=20)
    return ax


fig = plt.figure(figsize=(W / 100, H / 100), dpi=100)
for k in range(6):
    draw_panel(fig, k)

fig.savefig('out.png', dpi=100)
